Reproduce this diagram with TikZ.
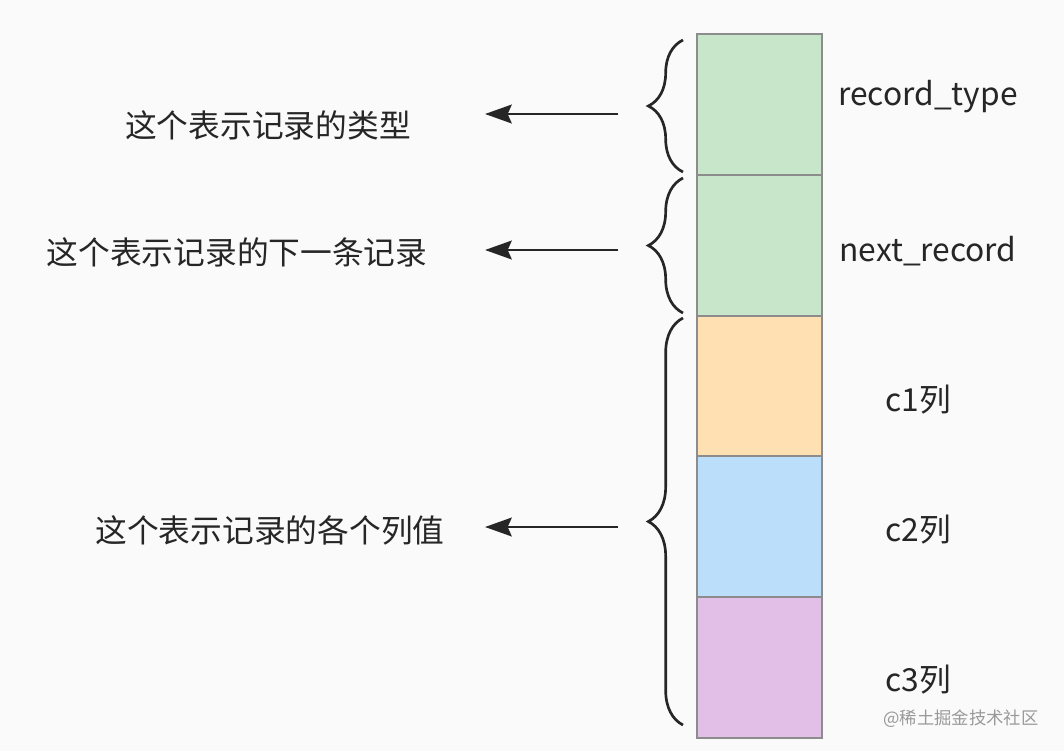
\documentclass[tikz,border=0pt]{standalone}
\usepackage{fontspec}
\setmainfont{Noto Sans CJK SC}
\usetikzlibrary{arrows.meta,decorations.pathreplacing}
\definecolor{fldgreen}{HTML}{C8E6CA}
\definecolor{fldorange}{HTML}{FFE0B2}
\definecolor{fldblue}{HTML}{BBDEFB}
\definecolor{fldpurple}{HTML}{E1BFE6}
\definecolor{inkdark}{HTML}{262626}
\begin{document}
\begin{tikzpicture}[
    x=0.75pt, y=-0.75pt,
    every node/.append style={font=\fontsize{23.8}{28}\selectfont, text=inkdark},
    field/.style={rectangle, draw=black!45, line width=1.1pt, fill=#1, minimum width=93.75pt, minimum height=105.6pt, inner sep=0pt, outer sep=0pt, anchor=north west},
    curly/.style={draw=inkdark, line width=2pt, decorate, decoration={brace, amplitude=26pt, aspect=0.5}},
    pointer/.style={draw=inkdark, line width=2.2pt, -{Stealth[length=20pt, width=14pt, inset=3pt]}}
]
    % Hintergrund
    \fill[black!2] (0,0) rectangle (1064,751);
    \useasboundingbox (0,0) rectangle (1064,751);

    % Datensatz-Felder
    \node[field=fldgreen]  (rtype) at (697,34)  {};
    \node[field=fldgreen]  (nrec)  at (697,175) {};
    \node[field=fldorange] (colA)  at (697,316) {};
    \node[field=fldblue]   (colB)  at (697,456) {};
    \node[field=fldpurple] (colC)  at (697,597) {};

    % Feldnamen
    \node (lrtype) at (928,97)  {record\_type};
    \node (lnrec)  at (928,251) {next\_record};
    \node (lcolA)  at (918,400) {c1列};
    \node (lcolB)  at (918,530) {c2列};
    \node (lcolC)  at (918,680) {c3列};

    % Klammern
    \draw[curly] (683,172) -- (683,40);
    \draw[curly] (683,313) -- (683,178);
    \draw[curly] (683,725) -- (683,318);

    % Pfeile
    \coordinate (p1s) at (618,114); \coordinate (p1e) at (485,114);
    \coordinate (p2s) at (618,250); \coordinate (p2e) at (485,250);
    \coordinate (p3s) at (618,527); \coordinate (p3e) at (485,527);
    \draw[pointer] (p1s) -- (p1e);
    \draw[pointer] (p2s) -- (p2e);
    \draw[pointer] (p3s) -- (p3e);

    % Erklaerungen
    \node (dtype) at (268,125) {这个表示记录的类型};
    \node (dnext) at (237,252) {这个表示记录的下一条记录};
    \node (dcols) at (270,530) {这个表示记录的各个列值};

    % Wasserzeichen
    \node[font=\fontsize{13}{15}\selectfont, text=black!40] (mark) at (961,719) {@稀土掘金技术社区};
\end{tikzpicture}
\end{document}
